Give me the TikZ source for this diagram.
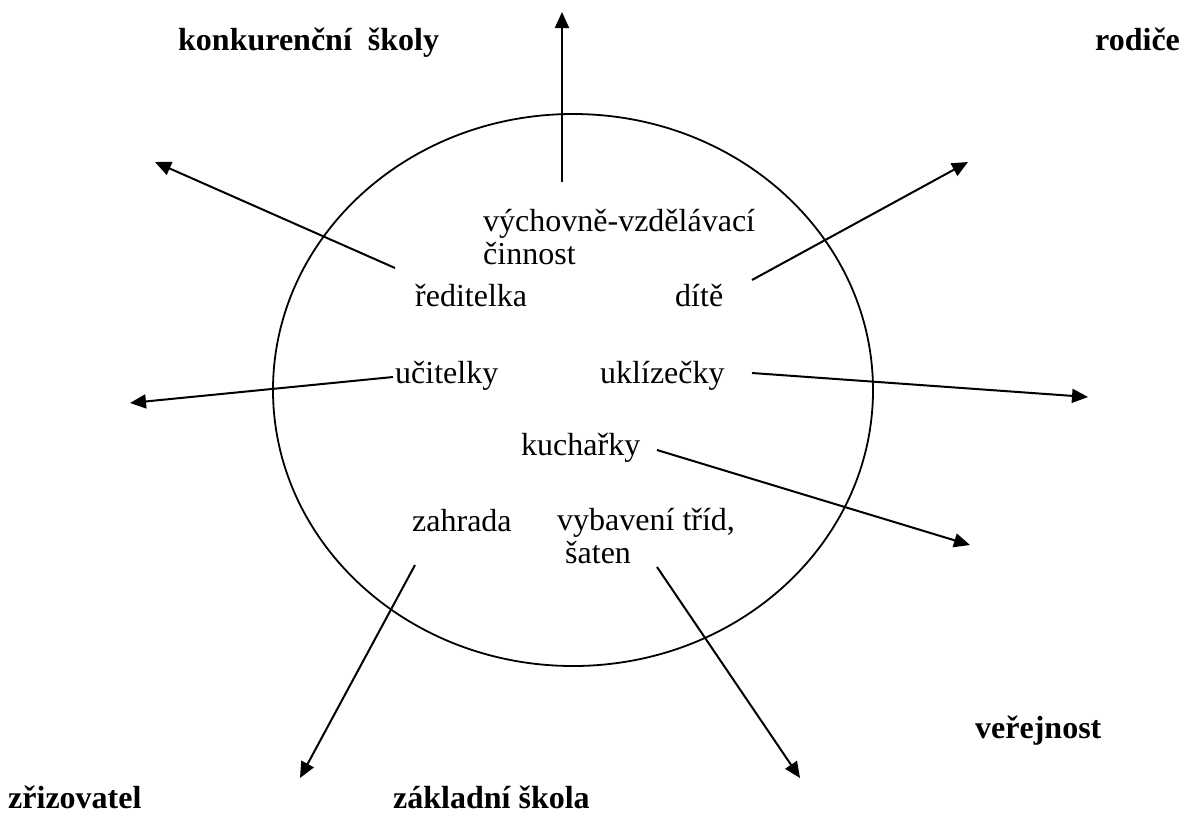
\documentclass[tikz,border=0pt]{standalone}
\usepackage{fontspec}
\setmainfont{Liberation Serif}
\usetikzlibrary{arrows.meta}
\begin{document}
\begin{tikzpicture}[x=1pt,y=-1pt,
  lbl/.style={inner sep=0pt,anchor=base west,font=\fontsize{32}{33}\selectfont,align=left},
  blbl/.style={lbl,font=\fontsize{32}{33}\selectfont\bfseries},
  arr/.style={line width=2pt,-{Triangle[length=16pt,width=14pt]}},
  ring/.style={line width=1.8pt}]
\useasboundingbox (0,0) rectangle (1185,815);
\draw[ring] (573,390) ellipse [x radius=300, y radius=276];
% outer labels
\node[blbl] (konk) at (178,50) {konkurenční\ \ školy};
\node[blbl] (rod) at (1095,50) {rodiče};
\node[blbl] (ver) at (975,738) {veřejnost};
\node[blbl] (zri) at (8,808) {zřizovatel};
\node[blbl] (zak) at (393,808) {základní škola};
% inner labels
\node[lbl] (vych) at (483,264) {výchovně-vzdělávací\\činnost};
\node[lbl] (red) at (415,306) {ředitelka};
\node[lbl] (dite) at (675,306) {dítě};
\node[lbl] (ucit) at (395,383) {učitelky};
\node[lbl] (ukl) at (600,383) {uklízečky};
\node[lbl] (kuch) at (521,455) {kuchařky};
\node[lbl] (zahr) at (412,531) {zahrada};
\node[lbl] (vyb) at (557,563) {vybavení tříd,\\\ šaten};
% arrow points
\coordinate (s1) at (562,182); \coordinate (e1) at (562,12);
\coordinate (s2) at (395,268); \coordinate (e2) at (155,162);
\coordinate (s3) at (752,280); \coordinate (e3) at (968,162);
\coordinate (s4) at (393,377); \coordinate (e4) at (130,403);
\coordinate (s5) at (752,373); \coordinate (e5) at (1088,397);
\coordinate (s6) at (657,450); \coordinate (e6) at (970,545);
\coordinate (s7) at (415,565); \coordinate (e7) at (300,778);
\coordinate (s8) at (657,567); \coordinate (e8) at (800,778);
\foreach \i in {1,...,8} \draw[arr] (s\i) -- (e\i);
\end{tikzpicture}
\end{document}
